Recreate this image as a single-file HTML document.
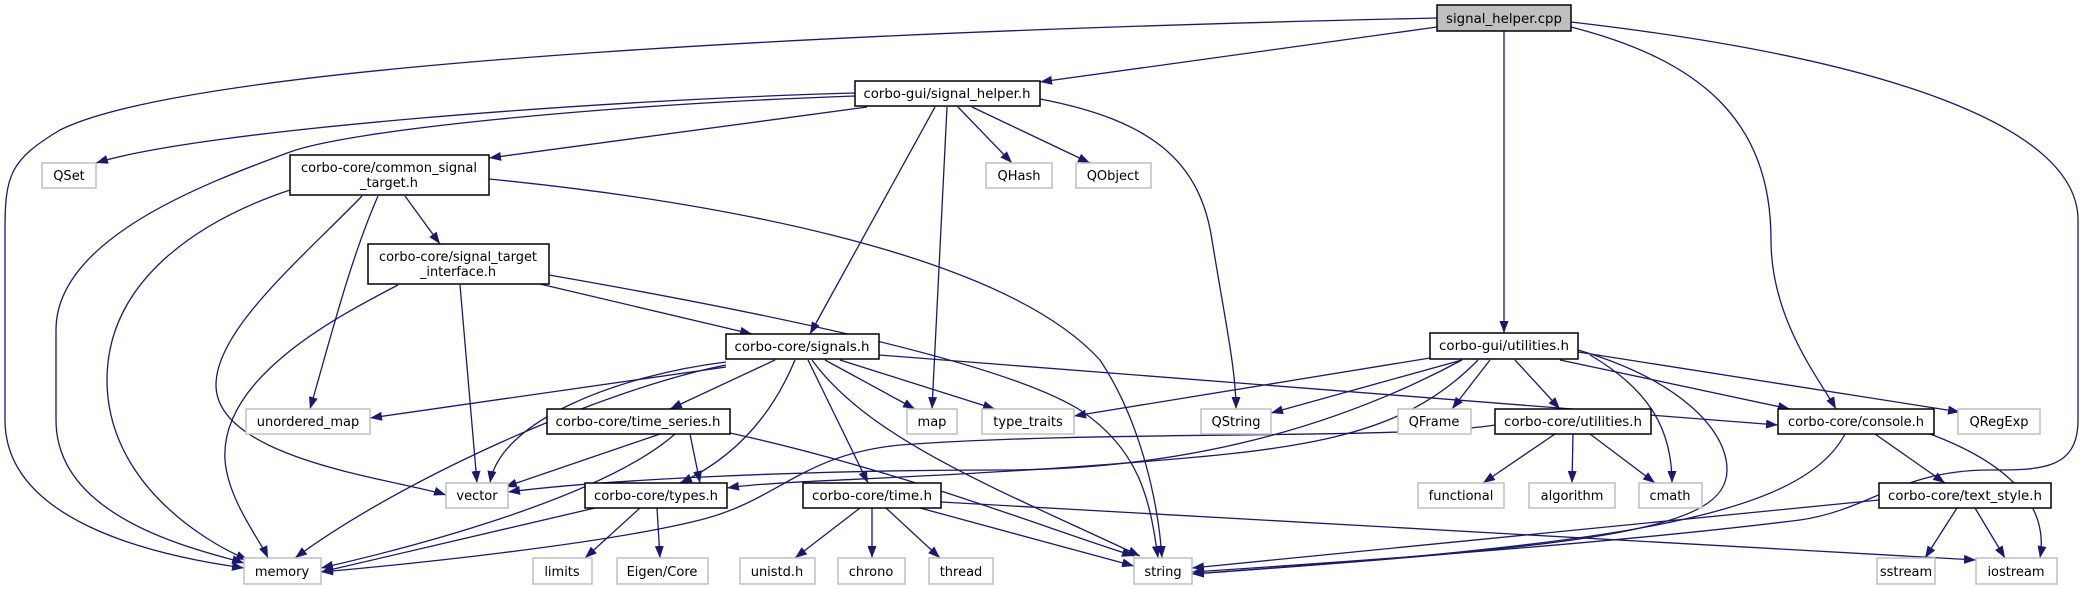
<!DOCTYPE html>
<html><head><meta charset="utf-8"><style>
html,body{margin:0;padding:0;background:#fff;}
svg{display:block;}
text{font-family:"DejaVu Sans","Liberation Sans",sans-serif;font-size:13px;fill:#000;}
</style></head><body>
<svg width="2085" height="589" viewBox="0 0 2085 589" xmlns="http://www.w3.org/2000/svg">
<defs>
<marker id="a" markerUnits="userSpaceOnUse" markerWidth="12" markerHeight="9" refX="12" refY="4.5" orient="auto">
<path d="M0,0 L12,4.5 L0,9 z" fill="#191970"/>
</marker>
</defs>
<g fill="none" stroke="#191970" stroke-width="1.3" marker-end="url(#a)">
<path d="M1437,18 C900,30 200,60 60,130 C10,160 5,175 5,230 L5,420 C5,520 150,555 244,568"/>
<path d="M1437,27 L1040,82"/>
<path d="M1504,31 L1504,333"/>
<path d="M1571,27 C1700,60 1771,120 1771,240 C1771,320 1820,380 1836,409"/>
<path d="M1571,22 C1900,60 2078,130 2078,220 L2078,420 C2078,470 2040,470 1990,470 C1900,470 1870,510 1800,520 C1600,545 1300,565 1192,572"/>
<path d="M855,93 C600,100 200,130 96,163"/>
<path d="M855,96 C600,105 350,130 290,152 C200,185 56,240 56,330 L56,420 C56,520 200,550 244,563"/>
<path d="M867,107 L489,158"/>
<path d="M935,107 L810,334"/>
<path d="M947,107 L932,409"/>
<path d="M958,107 L1012,163"/>
<path d="M972,107 L1090,163"/>
<path d="M1040,99 C1150,120 1200,160 1212,240 C1225,320 1236,370 1236,409"/>
<path d="M290,190 C200,220 107,280 107,380 C107,480 200,540 248,560"/>
<path d="M362,196 C300,260 216,330 216,385 C216,460 400,480 446,495"/>
<path d="M378,196 C350,260 330,340 310,409"/>
<path d="M405,196 L440,244"/>
<path d="M489,179 C700,200 1000,250 1100,360 C1140,420 1158,500 1162,558"/>
<path d="M398,285 C330,320 220,380 225,460 C228,500 260,540 268,558"/>
<path d="M460,285 L477,483"/>
<path d="M540,284 L752,334"/>
<path d="M549,275 C750,310 1000,360 1080,410 C1140,450 1150,500 1158,558"/>
<path d="M775,360 L670,409"/>
<path d="M795,360 C770,420 730,460 680,483"/>
<path d="M825,360 L915,409"/>
<path d="M840,360 L995,409"/>
<path d="M808,360 L868,483"/>
<path d="M812,360 C870,440 1000,490 1140,556"/>
<path d="M726,362 C620,375 500,420 490,483"/>
<path d="M726,365 C600,390 400,480 295,558"/>
<path d="M726,367 L370,418"/>
<path d="M879,355 L1778,425"/>
<path d="M660,434 L505,487"/>
<path d="M675,434 C600,500 400,550 321,568"/>
<path d="M690,434 L700,483"/>
<path d="M730,433 C900,470 1050,530 1134,556"/>
<path d="M595,508 L321,572"/>
<path d="M640,508 L585,558"/>
<path d="M657,508 L660,558"/>
<path d="M860,508 L795,558"/>
<path d="M872,508 L872,558"/>
<path d="M886,508 L940,558"/>
<path d="M920,508 L1134,566"/>
<path d="M941,502 L1976,560"/>
<path d="M1430,358 L1074,416"/>
<path d="M1462,360 L1271,413"/>
<path d="M1462,360 C1350,420 1200,470 1000,470 C800,470 600,480 508,492"/>
<path d="M1478,360 C1400,440 1300,450 1100,465 C900,480 780,480 727,488"/>
<path d="M1495,425 C1400,440 1100,430 900,445 C800,455 780,500 700,520 C600,545 400,565 321,572"/>
<path d="M1578,350 C1680,380 1727,430 1727,470 C1727,530 1600,545 1192,574"/>
<path d="M1590,355 C1650,390 1672,430 1672,483"/>
<path d="M1515,360 L1560,409"/>
<path d="M1490,360 L1452,409"/>
<path d="M1560,360 L1790,409"/>
<path d="M1578,352 L1960,412"/>
<path d="M1555,434 L1483,483"/>
<path d="M1573,434 L1572,483"/>
<path d="M1590,434 L1655,483"/>
<path d="M1845,434 C1800,520 1600,545 1192,574"/>
<path d="M1875,434 L1945,483"/>
<path d="M1930,434 C2000,460 2050,500 2040,558"/>
<path d="M1879,500 L1192,568"/>
<path d="M1957,508 L1925,558"/>
<path d="M1975,508 L2005,558"/>
</g>
<g stroke-width="1.5">
<rect x="1437" y="5" width="134" height="26" fill="#bfbfbf" stroke="#000"/>
<rect x="855" y="81" width="185" height="25" fill="#fff" stroke="#000"/>
<rect x="290" y="155" width="199" height="40" fill="#fff" stroke="#000"/>
<rect x="368" y="244" width="181" height="40" fill="#fff" stroke="#000"/>
<rect x="726" y="334" width="153" height="25" fill="#fff" stroke="#000"/>
<rect x="1430" y="333" width="148" height="26" fill="#fff" stroke="#000"/>
<rect x="547" y="409" width="183" height="25" fill="#fff" stroke="#000"/>
<rect x="1495" y="409" width="156" height="25" fill="#fff" stroke="#000"/>
<rect x="1778" y="409" width="156" height="25" fill="#fff" stroke="#000"/>
<rect x="585" y="483" width="142" height="25" fill="#fff" stroke="#000"/>
<rect x="803" y="483" width="138" height="25" fill="#fff" stroke="#000"/>
<rect x="1879" y="483" width="172" height="25" fill="#fff" stroke="#000"/>
</g>
<g fill="#fff" stroke="#bfbfbf" stroke-width="1.5">
<rect x="42" y="163" width="54" height="25"/>
<rect x="986" y="163" width="66" height="25"/>
<rect x="1076" y="163" width="75" height="25"/>
<rect x="246" y="409" width="124" height="25"/>
<rect x="907" y="409" width="50" height="25"/>
<rect x="982" y="409" width="92" height="25"/>
<rect x="1201" y="409" width="70" height="25"/>
<rect x="1398" y="409" width="73" height="25"/>
<rect x="1958" y="409" width="82" height="25"/>
<rect x="446" y="483" width="62" height="25"/>
<rect x="1418" y="483" width="86" height="25"/>
<rect x="1529" y="483" width="86" height="25"/>
<rect x="1639" y="483" width="63" height="25"/>
<rect x="244" y="558" width="77" height="26"/>
<rect x="533" y="558" width="59" height="26"/>
<rect x="617" y="558" width="91" height="26"/>
<rect x="740" y="558" width="75" height="26"/>
<rect x="838" y="558" width="67" height="26"/>
<rect x="929" y="558" width="64" height="26"/>
<rect x="1134" y="558" width="58" height="26"/>
<rect x="1877" y="558" width="58" height="26"/>
<rect x="1976" y="558" width="81" height="26"/>
</g>
<g text-anchor="middle" lengthAdjust="spacingAndGlyphs">
<text x="1504" y="23" textLength="116" lengthAdjust="spacingAndGlyphs">signal_helper.cpp</text>
<text x="947" y="98" textLength="167" lengthAdjust="spacingAndGlyphs">corbo-gui/signal_helper.h</text>
<text x="389" y="172" textLength="176" lengthAdjust="spacingAndGlyphs">corbo-core/common_signal</text>
<text x="389" y="187" textLength="58" lengthAdjust="spacingAndGlyphs">_target.h</text>
<text x="458" y="261" textLength="158" lengthAdjust="spacingAndGlyphs">corbo-core/signal_target</text>
<text x="458" y="276" textLength="76" lengthAdjust="spacingAndGlyphs">_interface.h</text>
<text x="802" y="351" textLength="135" lengthAdjust="spacingAndGlyphs">corbo-core/signals.h</text>
<text x="1504" y="350" textLength="130" lengthAdjust="spacingAndGlyphs">corbo-gui/utilities.h</text>
<text x="638" y="426" textLength="165" lengthAdjust="spacingAndGlyphs">corbo-core/time_series.h</text>
<text x="1573" y="426" textLength="138" lengthAdjust="spacingAndGlyphs">corbo-core/utilities.h</text>
<text x="1856" y="426" textLength="136" lengthAdjust="spacingAndGlyphs">corbo-core/console.h</text>
<text x="656" y="500" textLength="124" lengthAdjust="spacingAndGlyphs">corbo-core/types.h</text>
<text x="872" y="500" textLength="120" lengthAdjust="spacingAndGlyphs">corbo-core/time.h</text>
<text x="1965" y="500" textLength="154" lengthAdjust="spacingAndGlyphs">corbo-core/text_style.h</text>
<text x="69" y="180">QSet</text>
<text x="1019" y="180">QHash</text>
<text x="1113" y="180">QObject</text>
<text x="308" y="426">unordered_map</text>
<text x="932" y="426">map</text>
<text x="1028" y="426">type_traits</text>
<text x="1236" y="426">QString</text>
<text x="1434" y="426">QFrame</text>
<text x="1999" y="426">QRegExp</text>
<text x="477" y="500">vector</text>
<text x="1461" y="500">functional</text>
<text x="1572" y="500">algorithm</text>
<text x="1670" y="500">cmath</text>
<text x="282" y="576">memory</text>
<text x="562" y="576">limits</text>
<text x="662" y="576">Eigen/Core</text>
<text x="777" y="576">unistd.h</text>
<text x="871" y="576">chrono</text>
<text x="961" y="576">thread</text>
<text x="1163" y="576">string</text>
<text x="1906" y="576">sstream</text>
<text x="2016" y="576">iostream</text>
</g>
</svg>
</body></html>
